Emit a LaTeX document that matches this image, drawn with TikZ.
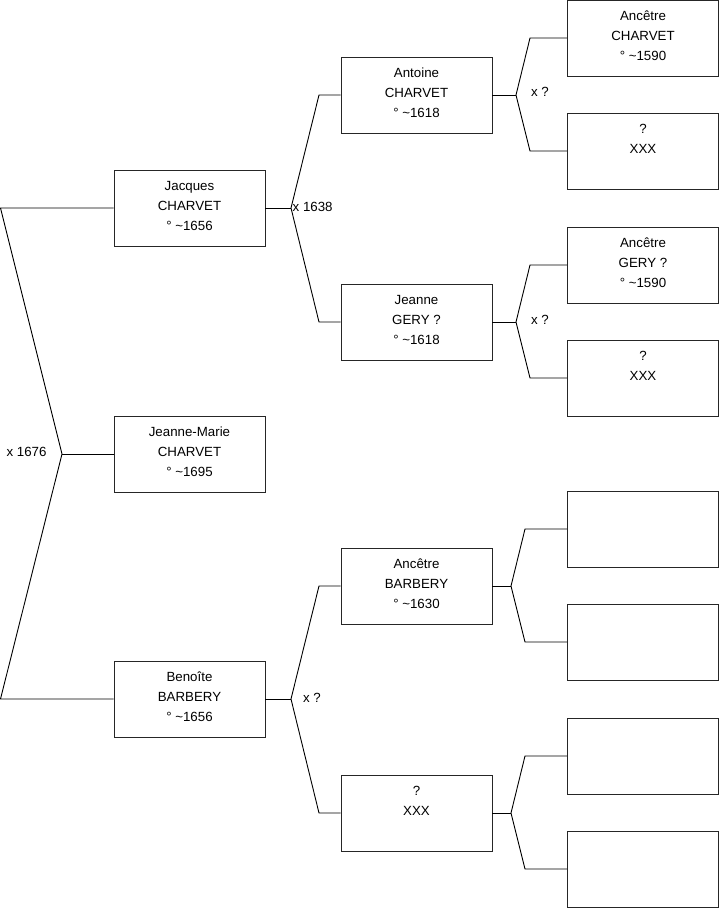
\documentclass[tikz,border=0pt]{standalone}
\usepackage{fontspec}
\setmainfont{Liberation Sans}
\newcommand{\lastdep}{\rule[-4pt]{0pt}{4pt}}
\begin{document}
\begin{tikzpicture}[x=1pt,y=-1pt,
  box/.style={draw=black!85, line width=0.9pt, rectangle, minimum width=151pt, minimum height=76pt, inner sep=0pt, align=center, font=\fontsize{13.3}{20}\selectfont},
  link/.style={draw=black, line width=0.9pt},
  lbl/.style={font=\fontsize{13.3}{15}\selectfont, inner sep=0pt}]
\useasboundingbox (0,0) rectangle (719,908);
% generation 0 and 1
\node[box] (jacques) at (189.5,208) {Jacques\\CHARVET\\° \textasciitilde1656\lastdep};
\node[box] (jm) at (189.5,454) {Jeanne-Marie\\CHARVET\\° \textasciitilde1695\lastdep};
\node[box] (benoite) at (189.5,699) {Benoîte\\BARBERY\\° \textasciitilde1656\lastdep};
% generation 2
\node[box] (antoine) at (416.5,95) {Antoine\\CHARVET\\° \textasciitilde1618\lastdep};
\node[box] (jeanne) at (416.5,322) {Jeanne\\GERY ?\\° \textasciitilde1618\lastdep};
\node[box] (abarbery) at (416.5,586) {Ancêtre\\BARBERY\\° \textasciitilde1630\lastdep};
\node[box] (xxx2) at (416.5,813) {?\\XXX\\\lastdep};
% generation 3
\node[box] (acharvet) at (643,38) {Ancêtre\\CHARVET\\° \textasciitilde1590\lastdep};
\node[box] (xxx3a) at (643,151) {?\\XXX\\\lastdep};
\node[box] (agery) at (643,265) {Ancêtre\\GERY ?\\° \textasciitilde1590\lastdep};
\node[box] (xxx3b) at (643,378) {?\\XXX\\\lastdep};
\node[box] (e1) at (643,529) {};
\node[box] (e2) at (643,642) {};
\node[box] (e3) at (643,756) {};
\node[box] (e4) at (643,869) {};
% coordinates
\coordinate (L1) at (0.5,208);
\coordinate (L2) at (0.5,699);
\coordinate (La) at (62,454);
\coordinate (A1) at (291,208);
\coordinate (A1t) at (319,95);
\coordinate (A1b) at (319,322);
\coordinate (B1) at (291,699);
\coordinate (B1t) at (319,586);
\coordinate (B1b) at (319,813);
\coordinate (C1) at (516,95);
\coordinate (C1t) at (530,38);
\coordinate (C1b) at (530,151);
\coordinate (C2) at (516,322);
\coordinate (C2t) at (530,265);
\coordinate (C2b) at (530,378);
\coordinate (D1) at (511,586);
\coordinate (D1t) at (525,529);
\coordinate (D1b) at (525,642);
\coordinate (D2) at (511,813);
\coordinate (D2t) at (525,756);
\coordinate (D2b) at (525,869);
% connectors
\draw[link] (jacques.west) -- (L1) -- (La) -- (L2) -- (benoite.west);
\draw[link] (La) -- (jm.west);
\draw[link] (jacques.east) -- (A1);
\draw[link] (antoine.west) -- (A1t) -- (A1) -- (A1b) -- (jeanne.west);
\draw[link] (benoite.east) -- (B1);
\draw[link] (abarbery.west) -- (B1t) -- (B1) -- (B1b) -- (xxx2.west);
\draw[link] (antoine.east) -- (C1);
\draw[link] (acharvet.west) -- (C1t) -- (C1) -- (C1b) -- (xxx3a.west);
\draw[link] (jeanne.east) -- (C2);
\draw[link] (agery.west) -- (C2t) -- (C2) -- (C2b) -- (xxx3b.west);
\draw[link] (abarbery.east) -- (D1);
\draw[link] (e1.west) -- (D1t) -- (D1) -- (D1b) -- (e2.west);
\draw[link] (xxx2.east) -- (D2);
\draw[link] (e3.west) -- (D2t) -- (D2) -- (D2b) -- (e4.west);
% labels
\node[lbl] (m0) at (26.5,452) {x 1676};
\node[lbl, anchor=west] (m1) at (292.5,207) {x 1638};
\node[lbl] (m2) at (540,92) {x ?};
\node[lbl] (m3) at (540,320) {x ?};
\node[lbl] (m4) at (312,698) {x ?};
\end{tikzpicture}
\end{document}
